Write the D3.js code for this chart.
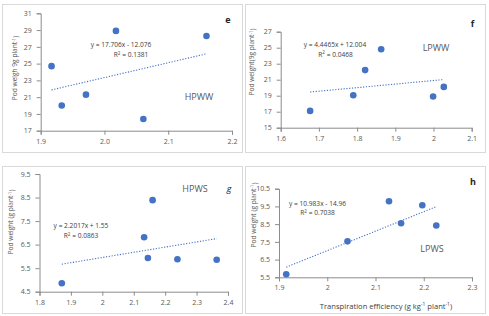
<!DOCTYPE html>
<html><head><meta charset="utf-8">
<script src="https://cdn.jsdelivr.net/npm/d3@7/dist/d3.min.js"></script>
<style>body{margin:0;background:#fff}svg{display:block;font-family:"Open Sans",sans-serif}</style>
</head><body><svg id="c" width="489" height="316"></svg>
<script>
// ---- data ----
const eX = [1.917, 1.933, 1.971, 2.018, 2.061, 2.160];
const eY = [24.7, 20.0, 21.3, 28.9, 18.4, 28.3];
const fX = [1.677, 1.790, 1.821, 1.863, 1.999, 2.027];
const fY = [17.1, 19.05, 22.2, 24.8, 18.9, 20.1];
const gX = [1.871, 2.133, 2.145, 2.160, 2.239, 2.364];
const gY = [4.86, 6.81, 5.93, 8.39, 5.88, 5.86];
const hX = [1.915, 2.042, 2.128, 2.153, 2.197, 2.226];
const hY = [5.67, 7.53, 9.79, 8.55, 9.57, 8.42];

const eXTicks = [1.9, 2.0, 2.1, 2.2], eXLabels = ["1.9", "2.0", "2.1", "2.2"];
const eYTicks = [17, 19, 21, 23, 25, 27, 29, 31];
const fXTicks = [1.6, 1.7, 1.8, 1.9, 2.0, 2.1], fXLabels = ["1.6", "1.7", "1.8", "1.9", "2", "2.1"];
const fYTicks = [15, 17, 19, 21, 23, 25, 27];
const gXTicks = [1.8, 1.9, 2.0, 2.1, 2.2, 2.3, 2.4], gXLabels = ["1.8", "1.9", "2", "2.1", "2.2", "2.3", "2.4"];
const gYTicks = [4.5, 5.5, 6.5, 7.5, 8.5, 9.5];
const hXTicks = [1.9, 2.0, 2.1, 2.2, 2.3], hXLabels = ["1.9", "2", "2.1", "2.2", "2.3"];
const hYTicks = [5.5, 6.5, 7.5, 8.5, 9.5, 10.5];

const trendSlopes = [17.706, 4.4465, 2.2017, 10.983];
const trendIntercepts = [-12.076, 12.004, 1.55, -14.96];
const eqLabels = ["y = 17.706x - 12.076", "y = 4.4465x + 12.004", "y = 2.2017x + 1.55", "y = 10.983x - 14.96"];
const r2Labels = ["0.1381", "0.0468", "0.0863", "0.7038"];
const groupLabels = ["HPWW", "LPWW", "HPWS", "LPWS"];
const panelLetters = ["e", "f", "g", "h"];
const yTitles = [["Pod weigh 9g plant", "-1", ")"], ["Pod weight(9g plant", "-1", ")"], ["Pod weight (g plant", "-1", ")"], ["Pod weight (g plant", "-1", ")"]];

// ---- layout ----
const svg = d3.select("#c");
const panels = [
  {x: eX, y: eY, xt: eXTicks, xl: eXLabels, yt: eYTicks, yfmt: d3.format("d"),
   frame: [2, 4, 240, 148], plot: [40.7, 13.3, 232, 130.7],
   eq: [121, 47], r2: [131, 57], grp: [199, 100], let: [228, 23], yt0: [15, 68]},
  {x: fX, y: fY, xt: fXTicks, xl: fXLabels, yt: fYTicks, yfmt: d3.format("d"),
   frame: [245, 4, 240, 148], plot: [280.7, 31.7, 471.7, 127.7],
   eq: [335, 46.5], r2: [335.5, 56.5], grp: [436, 51], let: [472.5, 27], yt0: [252, 62]},
  {x: gX, y: gY, xt: gXTicks, xl: gXLabels, yt: gYTicks, yfmt: d3.format(".1f"),
   frame: [2, 166, 240, 147], plot: [39.5, 174, 228, 291.7],
   eq: [81, 228], r2: [81, 238], grp: [195, 192], let: [229, 192], yt0: [11, 222]},
  {x: hX, y: hY, xt: hXTicks, xl: hXLabels, yt: hYTicks, yfmt: d3.format(".1f"),
   frame: [245, 166, 240, 147], plot: [279, 188.7, 472, 277.3],
   eq: [317.5, 205.5], r2: [317.5, 215], grp: [432, 252], let: [473, 184.5], yt0: [253.5, 215]}
];

const axisCol = "#8c8c8c", tickCol = "#595959", blue = "#4472C4";

panels.forEach((p, i) => {
  const g = svg.append("g");
  g.append("rect").attr("x", p.frame[0] + 0.5).attr("y", p.frame[1] + 0.5)
    .attr("width", p.frame[2]).attr("height", p.frame[3])
    .attr("fill", "#fff").attr("stroke", "#d9d9d9");
  const [x0, y0, x1, y1] = p.plot;
  const xs = d3.scaleLinear().domain([p.xt[0], p.xt[p.xt.length - 1]]).range([x0, x1]);
  const ys = d3.scaleLinear().domain([p.yt[0], p.yt[p.yt.length - 1]]).range([y1, y0]);

  const xa = g.append("g").attr("transform", `translate(0,${y1})`)
    .call(d3.axisBottom(xs).tickValues(p.xt).tickSize(4).tickPadding(4)
      .tickFormat((d, k) => p.xl[k]));
  const ya = g.append("g").attr("transform", `translate(${x0},0)`)
    .call(d3.axisLeft(ys).tickValues(p.yt).tickSize(4).tickPadding(5).tickFormat(p.yfmt));
  [xa, ya].forEach(a => {
    a.selectAll("path,line").attr("stroke", axisCol);
    a.selectAll("text").attr("fill", tickCol).style("font-size", "7px").style("font-family", "Open Sans");
  });

  // trend line
  const tx = d3.extent(p.x);
  const line = d3.line().x(d => xs(d)).y(d => ys(trendSlopes[i] * d + trendIntercepts[i]));
  g.append("path").attr("d", line(tx)).attr("fill", "none").attr("stroke", blue)
    .attr("stroke-width", 1.1).attr("stroke-dasharray", "1.2,1.6");

  // points
  g.selectAll("circle").data(p.x).join("circle")
    .attr("cx", d => xs(d)).attr("cy", (d, k) => ys(p.y[k])).attr("r", 3.3).attr("fill", blue);

  // equation
  g.append("text").attr("x", p.eq[0]).attr("y", p.eq[1]).attr("text-anchor", "middle")
    .attr("fill", "#404040").style("font-size", "6.6px").text(eqLabels[i]);
  const r = g.append("text").attr("x", p.r2[0]).attr("y", p.r2[1]).attr("text-anchor", "middle")
    .attr("fill", "#404040").style("font-size", "6.6px");
  r.append("tspan").text("R");
  r.append("tspan").attr("dy", -2.5).style("font-size", "4.5px").text("2");
  r.append("tspan").attr("dy", 2.5).text(" = " + r2Labels[i]);

  g.append("text").attr("x", p.grp[0]).attr("y", p.grp[1]).attr("text-anchor", "middle")
    .attr("fill", "#595959").style("font-size", "9px").text(groupLabels[i]);
  g.append("text").attr("x", p.let[0]).attr("y", p.let[1]).attr("text-anchor", "middle")
    .attr("fill", "#262626").style("font-size", "9px").style("font-weight", i === 2 ? "normal" : "bold")
    .style("font-style", i === 2 ? "italic" : "normal").text(panelLetters[i]);

  // y title
  const yt = g.append("text").attr("transform", `translate(${p.yt0[0]},${p.yt0[1]}) rotate(-90)`)
    .attr("text-anchor", "middle").attr("dy", "0.35em").attr("fill", "#595959").style("font-size", "6.6px");
  yt.append("tspan").text(yTitles[i][0]);
  yt.append("tspan").attr("dy", "-0.35em").style("font-size", "4.5px").text(yTitles[i][1]);
  yt.append("tspan").attr("dy", "0.35em").text(yTitles[i][2]);
});

// x title (panel h)
const xtT = svg.append("text").attr("x", 386).attr("y", 309).attr("text-anchor", "middle")
  .attr("fill", "#404040").style("font-size", "7.6px");
xtT.append("tspan").text("Transpiration efficiency (g kg");
xtT.append("tspan").attr("dy", -2.8).style("font-size", "5px").text("-1");
xtT.append("tspan").attr("dy", 2.8).text(" plant");
xtT.append("tspan").attr("dy", -2.8).style("font-size", "5px").text("-1");
xtT.append("tspan").attr("dy", 2.8).text(")");
</script></body></html>
